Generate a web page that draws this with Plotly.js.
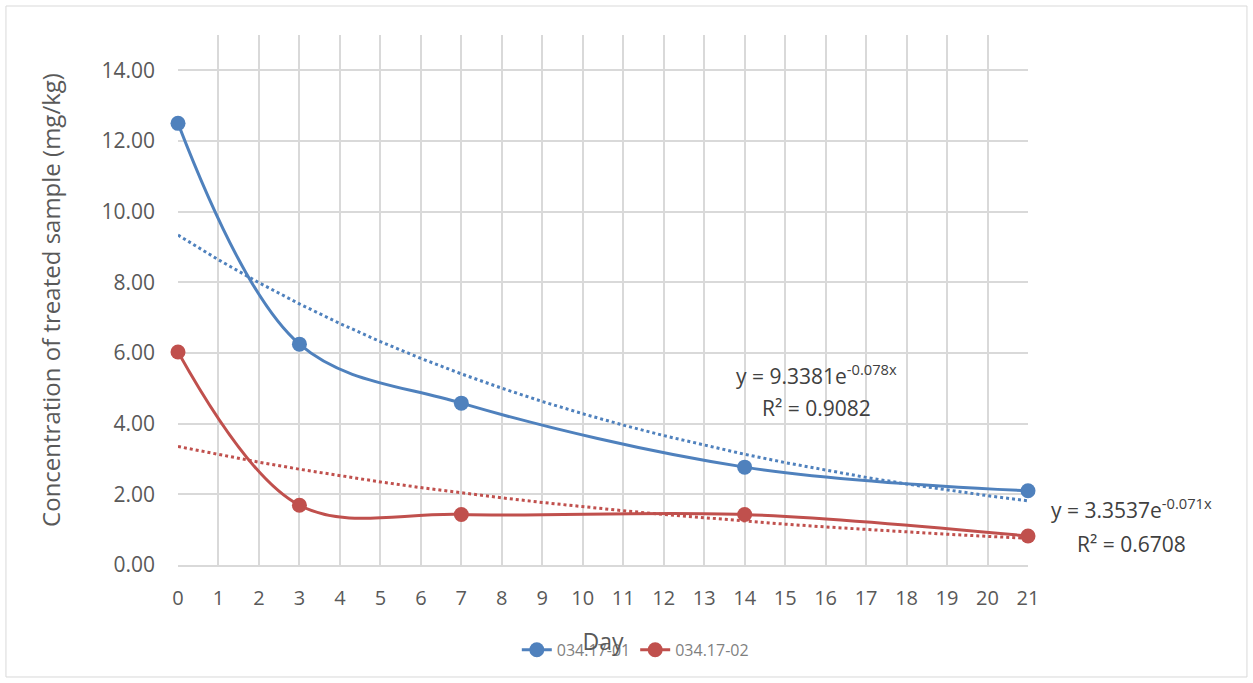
<!DOCTYPE html>
<html>
<head>
<meta charset="utf-8">
<script src="https://cdn.plot.ly/plotly-3.0.1.min.js"></script>
<style>body{margin:0;background:#fff}#chart{width:1253px;height:683px}</style>
</head>
<body>
<div id="chart"></div>
<script>
const days = [0, 3, 7, 14, 21];
const series1Name = "034.17-01";
const series1 = [12.50, 6.25, 4.58, 2.77, 2.10];
const series2Name = "034.17-02";
const series2 = [6.03, 1.69, 1.43, 1.43, 0.82];
// Exponential trendline coefficients as displayed on the chart: y = a * e^(b x)
const trend1 = [9.3381, -0.078];
const trend2 = [3.3537, -0.071];
const r2 = [0.9082, 0.6708];
const xTicks = [0,1,2,3,4,5,6,7,8,9,10,11,12,13,14,15,16,17,18,19,20,21];
const yTicks = [0, 2, 4, 6, 8, 10, 12, 14];
const yTickText = ["0.00","2.00","4.00","6.00","8.00","10.00","12.00","14.00"];

const blue = "#4F81BD", red = "#C0504D";
function trendY(c){ return xTicks.map(x => c[0]*Math.exp(c[1]*x)); }

const traces = [
  {x: xTicks, y: trendY(trend1), mode: "lines", line: {color: blue, width: 3, dash: "dot"}, showlegend: false, hoverinfo: "skip", cliponaxis: false},
  {x: xTicks, y: trendY(trend2), mode: "lines", line: {color: red, width: 3, dash: "dot"}, showlegend: false, hoverinfo: "skip", cliponaxis: false},
  {x: days, y: series1, name: series1Name, mode: "lines+markers", line: {color: blue, width: 3, shape: "spline", smoothing: 1}, marker: {color: blue, size: 15}, cliponaxis: false},
  {x: days, y: series2, name: series2Name, mode: "lines+markers", line: {color: red, width: 3, shape: "spline", smoothing: 1}, marker: {color: red, size: 15}, cliponaxis: false}
];

const fontFam = "Open Sans, Liberation Sans, sans-serif";
const layout = {
  width: 1253, height: 683,
  margin: {l: 178, r: 225, t: 35, b: 118},
  paper_bgcolor: "#fff", plot_bgcolor: "#fff",
  font: {family: fontFam, color: "#595959"},
  xaxis: {
    range: [0, 21], tickvals: xTicks, ticktext: xTicks.map(String),
    showgrid: true, gridcolor: "#d9d9d9", gridwidth: 1.5,
    showline: true, linecolor: "#d9d9d9", linewidth: 1.5, zeroline: false,
    ticks: "", ticklabelstandoff: 14, tickfont: {size: 20, color: "#595959"},
    title: {text: "Day", font: {size: 23, color: "#595959"}, standoff: 24}
  },
  yaxis: {
    range: [0, 15], tickvals: yTicks, ticktext: yTickText,
    showgrid: true, gridcolor: "#d9d9d9", gridwidth: 1.5,
    showline: false, zeroline: false, ticks: "", ticklen: 0,
    ticklabelstandoff: 22,
    tickfont: {size: 21, color: "#595959"},
    title: {text: "Concentration of treated sample (mg/kg)", font: {size: 24, color: "#595959"}, standoff: 34}
  },
  showlegend: true,
  legend: {orientation: "h", x: 0.538, xanchor: "center", y: -0.16, yanchor: "middle",
    font: {size: 16, color: "#7f7f7f"}, bgcolor: "rgba(0,0,0,0)"},
  annotations: [
    {xref: "x", yref: "y", x: 15.78, y: 5.4, xanchor: "center", text: "y = " + trend1[0] + "e<sup>" + trend1[1] + "x</sup>", showarrow: false, font: {size: 21, color: "#404040"}},
    {xref: "x", yref: "y", x: 15.78, y: 4.45, xanchor: "center", text: "R² = " + r2[0], showarrow: false, font: {size: 21, color: "#404040"}},
    {xref: "paper", yref: "y", x: 1.122, y: 1.6, xanchor: "center", text: "y = " + trend2[0] + "e<sup>" + trend2[1] + "x</sup>", showarrow: false, font: {size: 21, color: "#404040"}},
    {xref: "paper", yref: "y", x: 1.122, y: 0.6, xanchor: "center", text: "R² = " + r2[1], showarrow: false, font: {size: 21, color: "#404040"}}
  ],
  shapes: [
    {type: "rect", xref: "paper", yref: "paper", x0: -0.2024, x1: 1.2576, y0: -0.2113, y1: 1.0547, line: {color: "#d9d9d9", width: 1}, layer: "below"}
  ]
};
Plotly.newPlot("chart", traces, layout, {displayModeBar: false});
</script>
</body>
</html>
